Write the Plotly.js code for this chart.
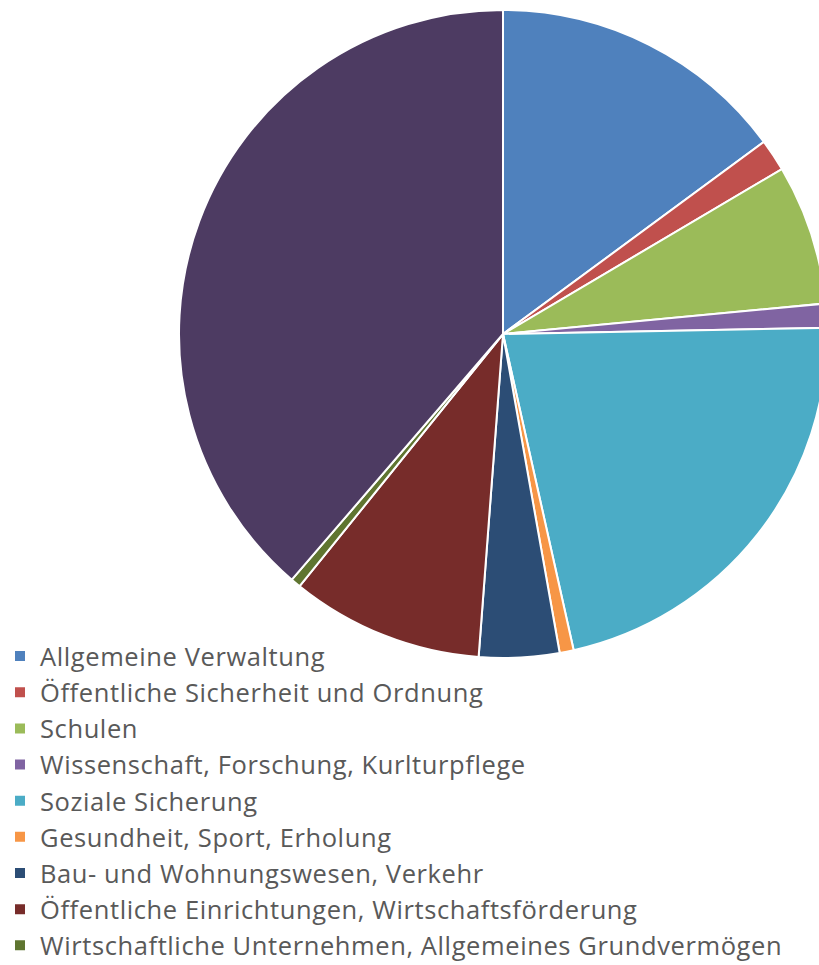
<!DOCTYPE html>
<html>
<head>
<meta charset="utf-8">
<script src="https://cdn.plot.ly/plotly-3.0.1.min.js"></script>
<style>
html,body{margin:0;padding:0;overflow:hidden;background:#fff;}
#chart{width:830px;height:1060px;}
.legendtext{letter-spacing:0.6px;}
</style>
</head>
<body>
<div id="chart"></div>
<script>
const categories = [
  "Allgemeine Verwaltung",
  "Öffentliche Sicherheit und Ordnung",
  "Schulen",
  "Wissenschaft, Forschung, Kurlturpflege",
  "Soziale Sicherung",
  "Gesundheit, Sport, Erholung",
  "Bau- und Wohnungswesen, Verkehr",
  "Öffentliche Einrichtungen, Wirtschaftsförderung",
  "Wirtschaftliche Unternehmen, Allgemeines Grundvermögen",
  "Allgemeine Finanzwirtschaft"
];
const shares = [14.9, 1.6, 7.0, 1.2, 21.8, 0.7, 4.0, 9.6, 0.5, 38.7];
const colors = ["#4F81BD","#C0504D","#9BBB59","#8064A2","#4BACC6","#F79646","#2C4D75","#772C2A","#5F7530","#4D3B62"];

const W = 830, H = 1060;
const cx = 503, cy = 334, r = 324;

const trace = {
  type: "pie",
  labels: categories,
  values: shares,
  sort: false,
  direction: "clockwise",
  rotation: 0,
  textinfo: "none",
  hoverinfo: "label+percent",
  marker: {colors: colors, line: {color: "#ffffff", width: 2}},
  domain: {x: [(cx - r) / W, (cx + r) / W], y: [1 - (cy + r) / H, 1 - (cy - r) / H]}
};

const layout = {
  width: W, height: H,
  margin: {l: 0, r: 0, t: 0, b: 0},
  paper_bgcolor: "#ffffff",
  showlegend: true,
  legend: {
    x: 0, xanchor: "left",
    y: 1 - 633 / H, yanchor: "top",
    font: {family: "Open Sans", size: 25.5, color: "#595959"},
    bgcolor: "rgba(0,0,0,0)",
    tracegroupgap: 0
  }
};

Plotly.newPlot("chart", [trace], layout, {displayModeBar: false, staticPlot: true});
</script>
</body>
</html>
